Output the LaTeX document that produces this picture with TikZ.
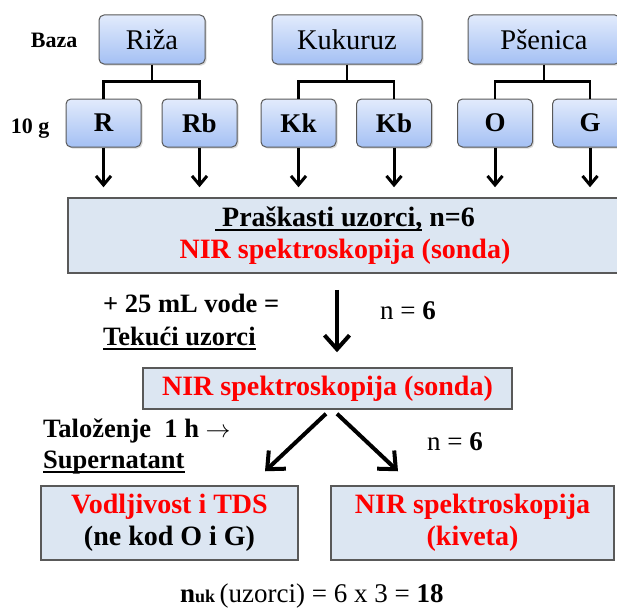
\documentclass[tikz,border=0pt]{standalone}
\usepackage{fontspec}
\setmainfont{Liberation Serif}
\usetikzlibrary{positioning,arrows.meta,calc,shadows}

\definecolor{topfill}{RGB}{226,235,252}
\definecolor{botfill}{RGB}{164,192,244}
\definecolor{panelfill}{RGB}{220,230,242}
\definecolor{edge}{RGB}{89,89,89}
\definecolor{nirred}{RGB}{255,0,0}

% underline with a fixed drop below the baseline
\newcommand{\ulined}[2][4.5pt]{\setbox0\hbox{#2}\rlap{\rule[-#1]{\wd0}{1.8pt}}\box0{}}

\begin{document}
\begin{tikzpicture}[
    x=1pt, y=-1pt,
    cat/.style={draw=edge, line width=1pt, rounded corners=5pt, top color=topfill, bottom color=botfill,
        drop shadow={shadow xshift=1.5pt, shadow yshift=-1.5pt, opacity=0.3}, minimum height=49pt,
        font=\fontsize{28.5}{32}\selectfont},
    sub/.style={cat, minimum width=75pt, minimum height=48pt, font=\bfseries\fontsize{27}{32}\selectfont},
    panel/.style={draw=edge, line width=1.5pt, fill=panelfill, align=center, font=\bfseries\fontsize{28}{32}\selectfont},
    lbl/.style={inner sep=0pt, font=\bfseries\fontsize{22}{24}\selectfont},
    note/.style={inner sep=0pt, align=left, font=\bfseries\fontsize{26.5}{33}\selectfont},
    plain/.style={inner sep=0pt, font=\fontsize{27}{30}\selectfont},
    tree/.style={line width=2.5pt},
    smallarr/.style={-{Straight Barb[length=9pt, width=15pt]}, line width=3pt},
    bigarr/.style={-{Straight Barb[length=14pt, width=25pt]}, line width=4pt}
]
    \useasboundingbox (0,0) rectangle (617,610);

    % Baza
    \node[cat, minimum width=106pt] (riza) at (152,39.5) {Riža};
    \node[cat, minimum width=150pt] (kukuruz) at (347,39.5) {Kukuruz};
    \node[cat, minimum width=152pt] (psenica) at (544,39.5) {Pšenica};
    \node[lbl, anchor=base east] (baza) at ($(riza.west)+(-21,8.5)$) {Baza};

    % 10 g
    \foreach \name/\lab/\xx in {r/R/103.5, rb/Rb/199.5, kk/Kk/298.5, kb/Kb/394, o/O/495, g/G/590}
        \node[sub] (\name) at (\xx,123) {\lab};
    \node[lbl, anchor=base east] (tensg) at ($(r.west)+(-16,10)$) {10 g};

    % Tree
    \foreach \top/\lft/\rgt in {riza/r/rb, kukuruz/kk/kb, psenica/o/g} {
        \draw[tree] (\top.south) -- ++(0,17) coordinate (\top-j);
        \draw[tree] (\lft.north) |- (\top-j) -| (\rgt.north);
    }

    % Powder samples
    \node[panel, minimum width=554pt, minimum height=75pt] (prah) at (345,235.5)
        {\ulined{ Praškasti uzorci,} n=6\\\textcolor{nirred}{NIR spektroskopija (sonda)}};
    \foreach \name in {r,rb,kk,kb,o,g}
        \draw[smallarr, shorten >=10pt] (\name.south) -- (\name.south |- prah.north);

    % Liquid samples
    \node[panel, minimum width=369pt, minimum height=41pt] (sonda) at (327.5,388.5)
        {\textcolor{nirred}{NIR spektroskopija (sonda)}};
    \draw[bigarr] ($(prah.south)+(-8,16)$) -- ($(sonda.north)+(9.5,-15)$);
    \node[note, anchor=west] (vode) at (103,322) {+ 25 mL vode =\\\ulined{Tekući uzorci}};
    \node[plain, anchor=base west] (n1) at (380,319) {n = \textbf{6}};

    % Supernatant
    \node[panel, minimum width=257pt, minimum height=74pt] (vod) at (169.5,523)
        {\textcolor{nirred}{Vodljivost i TDS}\\(ne kod O i G)};
    \node[panel, minimum width=283pt, minimum height=74pt, text=nirred] (kiveta) at (472.5,523)
        {NIR spektroskopija\\(kiveta)};
    \draw[bigarr] ($(sonda.south)+(-1.5,4)$) -- ($(vod.north)+(95.5,-14)$);
    \draw[bigarr] ($(sonda.south)+(9.5,4)$) -- ($(kiveta.north)+(-74.5,-14)$);
    \node[note, anchor=west, font=\bfseries\fontsize{26.5}{31}\selectfont] (talo) at (43,446)
        {Taloženje\ \ 1 h $\rightarrow$\\\ulined{Supernatant}};
    \node[plain, anchor=base west] (n2) at (427,450) {n = \textbf{6}};

    % Total
    \node[plain, anchor=base west] (nuk) at (180,602)
        {\textbf{n{\fontsize{18}{20}\selectfont uk}}\,(uzorci) = 6 x 3 = \textbf{18}};
\end{tikzpicture}
\end{document}
